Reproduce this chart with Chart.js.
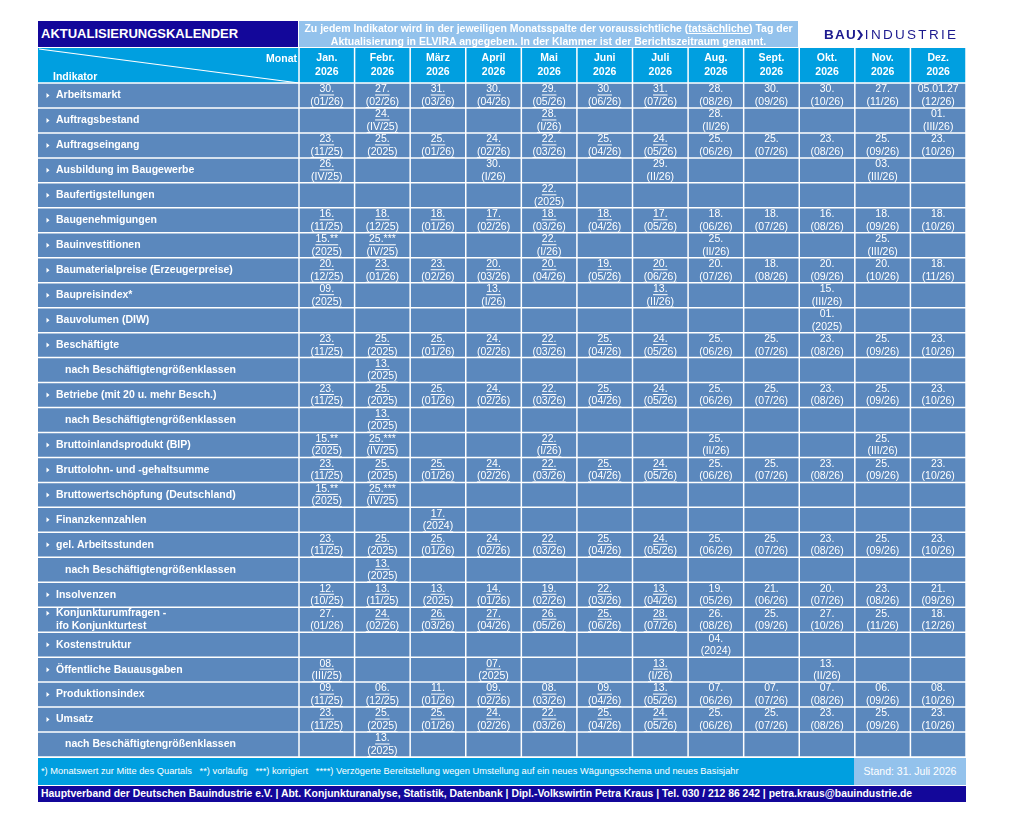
<!DOCTYPE html>
<html lang="de">
<head>
<meta charset="utf-8">
<title>Aktualisierungskalender</title>
<script src="https://cdn.jsdelivr.net/npm/chart.js@4.4.1/dist/chart.umd.min.js"></script>
<style>
  body { margin: 0; background: #fff; font-family: "Liberation Sans", Arial, sans-serif; }
  #page { position: relative; width: 1029px; height: 824px; overflow: hidden; }
  #cal { position: absolute; left: 0; top: 0; }
  .bar { position: absolute; box-sizing: border-box; color: #fff; white-space: nowrap; }
  #title { left: 38px; top: 21px; width: 260px; height: 26px; background: #13079a; font-weight: bold; font-size: 13px; line-height: 26px; padding-left: 3px; }
  #info { left: 299px; top: 21px; width: 499px; height: 26px; background: #93c2ec; font-weight: bold; font-size: 10.5px; line-height: 12.5px; text-align: center; padding-top: 1px; }
  #logo { left: 824px; top: 26px; height: 18px; color: #1c1a8f; font-size: 13.5px; line-height: 18px; }
  #logo b { letter-spacing: 1.2px; font-size: 13.5px; }
  #logo span { letter-spacing: 2.3px; }
  #notes { left: 38px; top: 758px; width: 816px; height: 27px; background: #009fe0; font-size: 9.3px; line-height: 27px; padding-left: 3px; }
  #stand { left: 854px; top: 758px; width: 112px; height: 27px; background: #93c2ec; font-size: 10.5px; line-height: 27px; text-align: center; }
  #contact { left: 38px; top: 786px; width: 928px; height: 16px; background: #13079a; font-weight: bold; font-size: 10.4px; line-height: 16px; padding-left: 3px; }
</style>
</head>
<body>
<div id="page">
  <canvas id="cal" width="1029" height="824"></canvas>
  <div class="bar" id="title">AKTUALISIERUNGSKALENDER</div>
  <div class="bar" id="info">Zu jedem Indikator wird in der jeweiligen Monatsspalte der voraussichtliche (<u>tatsächliche</u>) Tag der<br>Aktualisierung in ELVIRA angegeben. In der Klammer ist der Berichtszeitraum genannt.</div>
  <div class="bar" id="logo"><b>BAU</b><svg width="6" height="10" viewBox="0 0 6 10" style="vertical-align:-1px;margin:0 2px 0 0"><polygon points="0,0 2.5,0 6,5 2.5,10 0,10 3.5,5" fill="#1c1a8f"/></svg><span>INDUSTRIE</span></div>
  <div class="bar" id="notes">*) Monatswert zur Mitte des Quartals &nbsp;&nbsp;**) vorläufig &nbsp;&nbsp;***) korrigiert &nbsp;&nbsp;****) Verzögerte Bereitstellung wegen Umstellung auf ein neues Wägungsschema und neues Basisjahr</div>
  <div class="bar" id="stand">Stand: 31. Juli 2026</div>
  <div class="bar" id="contact">Hauptverband der Deutschen Bauindustrie e.V. | Abt. Konjunkturanalyse, Statistik, Datenbank | Dipl.-Volkswirtin Petra Kraus | Tel. 030 / 212 86 242 | petra.kraus@bauindustrie.de</div>
</div>
<script>
const monthNames = ['Jan.', 'Febr.', 'März', 'April', 'Mai', 'Juni', 'Juli', 'Aug.', 'Sept.', 'Okt.', 'Nov.', 'Dez.'];
const calendarYear = '2026';

const indicators = [
  'Arbeitsmarkt',
  'Auftragsbestand',
  'Auftragseingang',
  'Ausbildung im Baugewerbe',
  'Baufertigstellungen',
  'Baugenehmigungen',
  'Bauinvestitionen',
  'Baumaterialpreise (Erzeugerpreise)',
  'Baupreisindex*',
  'Bauvolumen (DIW)',
  'Beschäftigte',
  'nach Beschäftigtengrößenklassen',
  'Betriebe (mit 20 u. mehr Besch.)',
  'nach Beschäftigtengrößenklassen',
  'Bruttoinlandsprodukt (BIP)',
  'Bruttolohn- und -gehaltsumme',
  'Bruttowertschöpfung (Deutschland)',
  'Finanzkennzahlen',
  'gel. Arbeitsstunden',
  'nach Beschäftigtengrößenklassen',
  'Insolvenzen',
  'Konjunkturumfragen -\nifo Konjunkturtest',
  'Kostenstruktur',
  'Öffentliche Bauausgaben',
  'Produktionsindex',
  'Umsatz',
  'nach Beschäftigtengrößenklassen'
];

// Tag der Aktualisierung je Monat
const releaseDays = [
  ['30.', '27.', '31.', '30.', '29.', '30.', '31.', '28.', '30.', '30.', '27.', '05.01.27'],
  ['', '24.', '', '', '28.', '', '', '28.', '', '', '', '01.'],
  ['23.', '25.', '25.', '24.', '22.', '25.', '24.', '25.', '25.', '23.', '25.', '23.'],
  ['26.', '', '', '30.', '', '', '29.', '', '', '', '03.', ''],
  ['', '', '', '', '22.', '', '', '', '', '', '', ''],
  ['16.', '18.', '18.', '17.', '18.', '18.', '17.', '18.', '18.', '16.', '18.', '18.'],
  ['15.**', '25.***', '', '', '22.', '', '', '25.', '', '', '25.', ''],
  ['20.', '23.', '23.', '20.', '20.', '19.', '20.', '20.', '18.', '20.', '20.', '18.'],
  ['09.', '', '', '13.', '', '', '13.', '', '', '15.', '', ''],
  ['', '', '', '', '', '', '', '', '', '01.', '', ''],
  ['23.', '25.', '25.', '24.', '22.', '25.', '24.', '25.', '25.', '23.', '25.', '23.'],
  ['', '13.', '', '', '', '', '', '', '', '', '', ''],
  ['23.', '25.', '25.', '24.', '22.', '25.', '24.', '25.', '25.', '23.', '25.', '23.'],
  ['', '13.', '', '', '', '', '', '', '', '', '', ''],
  ['15.**', '25.***', '', '', '22.', '', '', '25.', '', '', '25.', ''],
  ['23.', '25.', '25.', '24.', '22.', '25.', '24.', '25.', '25.', '23.', '25.', '23.'],
  ['15.**', '25.***', '', '', '', '', '', '', '', '', '', ''],
  ['', '', '17.', '', '', '', '', '', '', '', '', ''],
  ['23.', '25.', '25.', '24.', '22.', '25.', '24.', '25.', '25.', '23.', '25.', '23.'],
  ['', '13.', '', '', '', '', '', '', '', '', '', ''],
  ['12.', '13.', '13.', '14.', '19.', '22.', '13.', '19.', '21.', '20.', '23.', '21.'],
  ['27.', '24.', '26.', '27.', '26.', '25.', '28.', '26.', '25.', '27.', '25.', '18.'],
  ['', '', '', '', '', '', '', '04.', '', '', '', ''],
  ['08.', '', '', '07.', '', '', '13.', '', '', '13.', '', ''],
  ['09.', '06.', '11.', '09.', '08.', '09.', '13.', '07.', '07.', '07.', '06.', '08.'],
  ['23.', '25.', '25.', '24.', '22.', '25.', '24.', '25.', '25.', '23.', '25.', '23.'],
  ['', '13.', '', '', '', '', '', '', '', '', '', '']
];

// Berichtszeitraum (in Klammern)
const refPeriods = [
  ['(01/26)', '(02/26)', '(03/26)', '(04/26)', '(05/26)', '(06/26)', '(07/26)', '(08/26)', '(09/26)', '(10/26)', '(11/26)', '(12/26)'],
  ['', '(IV/25)', '', '', '(I/26)', '', '', '(II/26)', '', '', '', '(III/26)'],
  ['(11/25)', '(2025)', '(01/26)', '(02/26)', '(03/26)', '(04/26)', '(05/26)', '(06/26)', '(07/26)', '(08/26)', '(09/26)', '(10/26)'],
  ['(IV/25)', '', '', '(I/26)', '', '', '(II/26)', '', '', '', '(III/26)', ''],
  ['', '', '', '', '(2025)', '', '', '', '', '', '', ''],
  ['(11/25)', '(12/25)', '(01/26)', '(02/26)', '(03/26)', '(04/26)', '(05/26)', '(06/26)', '(07/26)', '(08/26)', '(09/26)', '(10/26)'],
  ['(2025)', '(IV/25)', '', '', '(I/26)', '', '', '(II/26)', '', '', '(III/26)', ''],
  ['(12/25)', '(01/26)', '(02/26)', '(03/26)', '(04/26)', '(05/26)', '(06/26)', '(07/26)', '(08/26)', '(09/26)', '(10/26)', '(11/26)'],
  ['(2025)', '', '', '(I/26)', '', '', '(II/26)', '', '', '(III/26)', '', ''],
  ['', '', '', '', '', '', '', '', '', '(2025)', '', ''],
  ['(11/25)', '(2025)', '(01/26)', '(02/26)', '(03/26)', '(04/26)', '(05/26)', '(06/26)', '(07/26)', '(08/26)', '(09/26)', '(10/26)'],
  ['', '(2025)', '', '', '', '', '', '', '', '', '', ''],
  ['(11/25)', '(2025)', '(01/26)', '(02/26)', '(03/26)', '(04/26)', '(05/26)', '(06/26)', '(07/26)', '(08/26)', '(09/26)', '(10/26)'],
  ['', '(2025)', '', '', '', '', '', '', '', '', '', ''],
  ['(2025)', '(IV/25)', '', '', '(I/26)', '', '', '(II/26)', '', '', '(III/26)', ''],
  ['(11/25)', '(2025)', '(01/26)', '(02/26)', '(03/26)', '(04/26)', '(05/26)', '(06/26)', '(07/26)', '(08/26)', '(09/26)', '(10/26)'],
  ['(2025)', '(IV/25)', '', '', '', '', '', '', '', '', '', ''],
  ['', '', '(2024)', '', '', '', '', '', '', '', '', ''],
  ['(11/25)', '(2025)', '(01/26)', '(02/26)', '(03/26)', '(04/26)', '(05/26)', '(06/26)', '(07/26)', '(08/26)', '(09/26)', '(10/26)'],
  ['', '(2025)', '', '', '', '', '', '', '', '', '', ''],
  ['(10/25)', '(11/25)', '(2025)', '(01/26)', '(02/26)', '(03/26)', '(04/26)', '(05/26)', '(06/26)', '(07/26)', '(08/26)', '(09/26)'],
  ['(01/26)', '(02/26)', '(03/26)', '(04/26)', '(05/26)', '(06/26)', '(07/26)', '(08/26)', '(09/26)', '(10/26)', '(11/26)', '(12/26)'],
  ['', '', '', '', '', '', '', '(2024)', '', '', '', ''],
  ['(III/25)', '', '', '(2025)', '', '', '(I/26)', '', '', '(II/26)', '', ''],
  ['(11/25)', '(12/25)', '(01/26)', '(02/26)', '(03/26)', '(04/26)', '(05/26)', '(06/26)', '(07/26)', '(08/26)', '(09/26)', '(10/26)'],
  ['(11/25)', '(2025)', '(01/26)', '(02/26)', '(03/26)', '(04/26)', '(05/26)', '(06/26)', '(07/26)', '(08/26)', '(09/26)', '(10/26)'],
  ['', '(2025)', '', '', '', '', '', '', '', '', '', '']
];

// x = tatsächlicher Termin (unterstrichen), . = voraussichtlich
const actualFlags = [
  'xxxxxxx.....', '.x..x.......', 'xxxxxxx.....', 'x...........', '....x.......',
  'xxxxxxx.....', 'xx..x.......', 'xxxxxxx.....', 'x..x..x.....', '............',
  'xxxxxxx.....', '.x..........', 'xxxxxxx.....', '.x..........', 'xx..x.......',
  'xxxxxxx.....', 'xx..........', '..x.........', 'xxxxxxx.....', '.x..........',
  'xxxxxxx.....', '.xxxxxx.....', '............', 'x..x..x.....', 'xxxxxxx.....',
  'xxxxxxx.....', '.x..........'
];

const cellBlue = '#5b88bd';
const headBlue = '#009fe0';
const tableLeft = 38;
const headTop = 48;

function drawText(ctx, text, x, y, underline) {
  ctx.fillText(text, x, y);
  if (!underline) return;
  const w = ctx.measureText(text).width;
  let x0 = x;
  if (ctx.textAlign === 'center') x0 = x - w / 2;
  ctx.fillRect(x0, y + 5, w, 1);
}

const calendarPlugin = {
  id: 'calendarGrid',
  afterDraw(chart) {
    const { ctx, chartArea: area, scales } = chart;
    const xs = scales.x;
    const ys = scales.y;
    const colW = area.width / monthNames.length;
    const rowH = area.height / indicators.length;

    ctx.save();
    // header band and body
    ctx.fillStyle = headBlue;
    ctx.fillRect(tableLeft, headTop, area.right - tableLeft, area.top - headTop);
    ctx.fillStyle = cellBlue;
    ctx.fillRect(tableLeft, area.top, area.right - tableLeft, area.height);

    // grid lines
    ctx.strokeStyle = '#ffffff';
    ctx.lineWidth = 1.5;
    ctx.beginPath();
    for (let i = 0; i <= indicators.length; i++) {
      const yy = ys.getPixelForValue(0) - rowH / 2 + i * rowH;
      ctx.moveTo(tableLeft, yy);
      ctx.lineTo(area.right, yy);
    }
    for (let j = 0; j <= monthNames.length; j++) {
      const xx = xs.getPixelForValue(0) - colW / 2 + j * colW;
      ctx.moveTo(xx, headTop);
      ctx.lineTo(xx, area.bottom);
    }
    ctx.stroke();

    // diagonal in corner cell
    ctx.lineWidth = 1.2;
    ctx.beginPath();
    ctx.moveTo(tableLeft + 1, headTop + 1);
    ctx.lineTo(area.left, area.top);
    ctx.stroke();

    ctx.fillStyle = '#ffffff';
    ctx.font = 'bold 10.5px "Liberation Sans", Arial, sans-serif';
    ctx.textBaseline = 'middle';
    ctx.textAlign = 'right';
    ctx.fillText('Monat', area.left - 2, 59);
    ctx.textAlign = 'left';
    ctx.fillText('Indikator', 53, 77);

    // month header
    ctx.textAlign = 'center';
    monthNames.forEach((m, j) => {
      const cx = xs.getPixelForValue(j);
      ctx.fillText(m, cx, 58);
      ctx.fillText(calendarYear, cx, 72);
    });

    // indicator labels
    ctx.textAlign = 'left';
    indicators.forEach((name, i) => {
      const cy = ys.getPixelForValue(i);
      const lines = name.split('\n');
      const isSub = name.startsWith('nach ');
      const y0 = cy - (lines.length - 1) * 6.5;
      if (!isSub) {
        ctx.beginPath();
        ctx.moveTo(46.5, y0 - 2.5);
        ctx.lineTo(49.5, y0);
        ctx.lineTo(46.5, y0 + 2.5);
        ctx.closePath();
        ctx.fill();
      }
      lines.forEach((ln, k) => ctx.fillText(ln, isSub ? 65 : 56, y0 + k * 13));
    });

    // cell entries
    ctx.font = '10.5px "Liberation Sans", Arial, sans-serif';
    ctx.textAlign = 'center';
    indicators.forEach((name, i) => {
      const cy = ys.getPixelForValue(i);
      monthNames.forEach((m, j) => {
        const day = releaseDays[i][j];
        if (!day) return;
        const cx = xs.getPixelForValue(j);
        const ul = actualFlags[i][j] === 'x';
        drawText(ctx, day, cx, cy - 6, ul);
        drawText(ctx, refPeriods[i][j], cx, cy + 6.5, ul);
      });
    });
    ctx.restore();
  }
};

new Chart(document.getElementById('cal'), {
  type: 'scatter',
  data: { datasets: [{ data: [], pointRadius: 0 }] },
  options: {
    responsive: false,
    animation: false,
    events: [],
    layout: { padding: { left: 299, top: 83, right: 63, bottom: 67 } },
    scales: {
      x: { type: 'category', labels: monthNames, offset: true, display: false },
      y: { type: 'category', labels: indicators, offset: true, display: false }
    },
    plugins: { legend: { display: false }, tooltip: { enabled: false } }
  },
  plugins: [calendarPlugin]
});
</script>
</body>
</html>
